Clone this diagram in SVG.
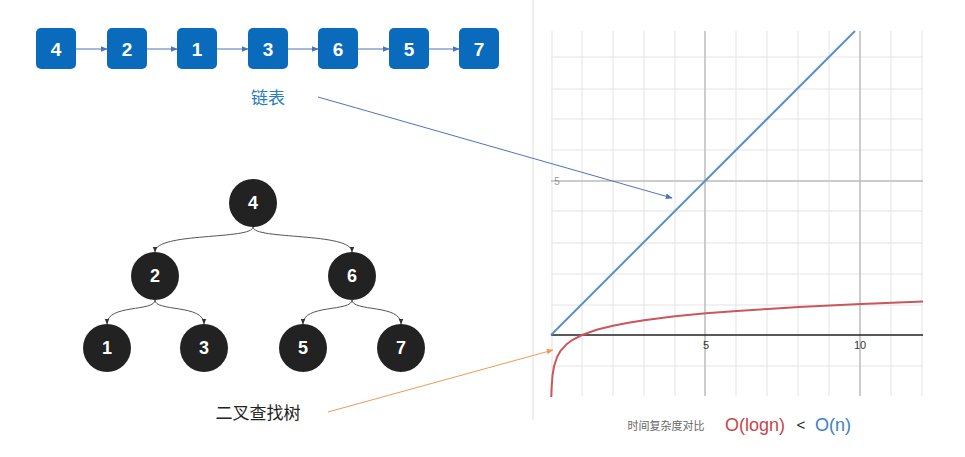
<svg xmlns="http://www.w3.org/2000/svg" width="965" height="457" viewBox="0 0 965 457">
<style>
.box{fill:#0a6bbd}
.bt{fill:#fff;font:bold 19px "Liberation Sans",Arial,sans-serif;text-anchor:middle}
.node{fill:#222}
.nt{fill:#fff;font:bold 18px "Liberation Sans",Arial,sans-serif;text-anchor:middle}
.ll{stroke:#4d74b8;stroke-width:1;fill:none}
.te{stroke:#555;stroke-width:1;fill:none}
.g{stroke:#e3e3e3;stroke-width:1}
.gm{stroke:#bbb;stroke-width:1.5}
</style>
<defs>
<marker id="ab" viewBox="0 0 10 10" refX="9" refY="5" markerWidth="7" markerHeight="7" orient="auto"><path d="M0,1 L10,5 L0,9z" fill="#4d74b8"/></marker>
<marker id="at" viewBox="0 0 10 10" refX="9" refY="5" markerWidth="6" markerHeight="6" orient="auto"><path d="M0,1 L10,5 L0,9z" fill="#333"/></marker>
<marker id="ao" viewBox="0 0 10 10" refX="9" refY="5" markerWidth="7" markerHeight="7" orient="auto"><path d="M0,1 L10,5 L0,9z" fill="#ee9a55"/></marker>
</defs>
<rect width="965" height="457" fill="#fff"/>
<g id="chart">
<line x1="533" y1="0" x2="533" y2="420" stroke="#ddd"/>
<g class="g">
<line x1="551" y1="57" x2="923" y2="57"/><line x1="551" y1="89" x2="923" y2="89"/><line x1="551" y1="119" x2="923" y2="119"/><line x1="551" y1="150" x2="923" y2="150"/><line x1="551" y1="211" x2="923" y2="211"/><line x1="551" y1="243" x2="923" y2="243"/><line x1="551" y1="274" x2="923" y2="274"/><line x1="551" y1="305" x2="923" y2="305"/><line x1="551" y1="366" x2="923" y2="366"/>
<line x1="582" y1="31" x2="582" y2="396"/><line x1="613" y1="31" x2="613" y2="396"/><line x1="644" y1="31" x2="644" y2="396"/><line x1="675" y1="31" x2="675" y2="396"/><line x1="736" y1="31" x2="736" y2="396"/><line x1="767" y1="31" x2="767" y2="396"/><line x1="798" y1="31" x2="798" y2="396"/><line x1="829" y1="31" x2="829" y2="396"/><line x1="891" y1="31" x2="891" y2="396"/><line x1="922" y1="31" x2="922" y2="396"/><line x1="552" y1="31" x2="552" y2="396"/>
</g>
<line class="gm" x1="551" y1="181" x2="923" y2="181"/>
<line class="gm" x1="705" y1="31" x2="705" y2="396"/>
<line class="gm" x1="860" y1="31" x2="860" y2="396"/>
<line x1="551" y1="335" x2="923" y2="335" stroke="#222" stroke-width="1.5"/>
<text x="557" y="185" font-family="Liberation Sans,sans-serif" font-size="10" fill="#999" text-anchor="middle">5</text>
<text x="706" y="349" font-family="Liberation Sans,sans-serif" font-size="11" fill="#333" text-anchor="middle">5</text>
<text x="860" y="349" font-family="Liberation Sans,sans-serif" font-size="11" fill="#333" text-anchor="middle">10</text>
<line x1="551" y1="335" x2="855" y2="31" stroke="#5b90c8" stroke-width="2"/>
<path d="M551.3,397 L551.6,387.7 L552.5,375.3 L554.1,366 L557.2,356.7 L560.3,351.2 L566.5,344.3 L572.7,339.8 L582,335 L597.5,329.5 L613,325.7 L628.5,322.7 L644,320.2 L659.5,318.2 L675,316.3 L706,313.3 L737,310.9 L768,308.9 L799,307 L830,305.4 L861,304 L892,302.7 L923,301.5" fill="none" stroke="#c9575b" stroke-width="2" stroke-linejoin="round"/>
</g>
<g id="connectors">
<line class="ll" x1="76" y1="49" x2="107" y2="49" marker-end="url(#ab)"/>
<line class="ll" x1="147" y1="49" x2="177" y2="49" marker-end="url(#ab)"/>
<line class="ll" x1="217" y1="49" x2="248" y2="49" marker-end="url(#ab)"/>
<line class="ll" x1="288" y1="49" x2="318" y2="49" marker-end="url(#ab)"/>
<line class="ll" x1="358" y1="49" x2="389" y2="49" marker-end="url(#ab)"/>
<line class="ll" x1="429" y1="49" x2="459" y2="49" marker-end="url(#ab)"/>
<line class="ll" x1="318" y1="97" x2="672" y2="198" marker-end="url(#ab)"/>
<line x1="328" y1="412" x2="553" y2="350" stroke="#ee9a55" stroke-width="1" marker-end="url(#ao)"/>
<path class="te" d="M253,227 C253,240 155,232 155,252" marker-end="url(#at)"/>
<path class="te" d="M253,227 C253,240 352,232 352,252" marker-end="url(#at)"/>
<path class="te" d="M155,300 C155,312 107,304 107,324" marker-end="url(#at)"/>
<path class="te" d="M155,300 C155,312 204,304 204,324" marker-end="url(#at)"/>
<path class="te" d="M352,300 C352,312 303,304 303,324" marker-end="url(#at)"/>
<path class="te" d="M352,300 C352,312 401,304 401,324" marker-end="url(#at)"/>
</g>
<g id="l4"><rect class="box" x="36" y="28" width="40" height="41" rx="5"/><text class="bt" x="56" y="56">4</text></g>
<g id="l2"><rect class="box" x="107" y="28" width="40" height="41" rx="5"/><text class="bt" x="127" y="56">2</text></g>
<g id="l1"><rect class="box" x="177" y="28" width="40" height="41" rx="5"/><text class="bt" x="197" y="56">1</text></g>
<g id="l3"><rect class="box" x="248" y="28" width="40" height="41" rx="5"/><text class="bt" x="268" y="56">3</text></g>
<g id="l6"><rect class="box" x="318" y="28" width="40" height="41" rx="5"/><text class="bt" x="338" y="56">6</text></g>
<g id="l5"><rect class="box" x="389" y="28" width="40" height="41" rx="5"/><text class="bt" x="409" y="56">5</text></g>
<g id="l7"><rect class="box" x="459" y="28" width="40" height="41" rx="5"/><text class="bt" x="479" y="56">7</text></g>
<g id="t4"><circle class="node" cx="253" cy="203" r="24"/><text class="nt" x="253" y="209">4</text></g>
<g id="t2"><circle class="node" cx="155" cy="276" r="24"/><text class="nt" x="155" y="282">2</text></g>
<g id="t6"><circle class="node" cx="352" cy="276" r="24"/><text class="nt" x="352" y="282">6</text></g>
<g id="t1"><circle class="node" cx="107" cy="348" r="24"/><text class="nt" x="107" y="354">1</text></g>
<g id="t3"><circle class="node" cx="204" cy="348" r="24"/><text class="nt" x="204" y="354">3</text></g>
<g id="t5"><circle class="node" cx="303" cy="348" r="24"/><text class="nt" x="303" y="354">5</text></g>
<g id="t7"><circle class="node" cx="401" cy="348" r="24"/><text class="nt" x="401" y="354">7</text></g>
<g id="labels" font-family="Liberation Sans,'Noto Sans CJK SC',sans-serif">
<text x="268" y="104" font-size="17" fill="#2a7cc0" text-anchor="middle">链表</text>
<text x="258" y="419" font-size="17" fill="#222" text-anchor="middle">二叉查找树</text>
<text x="666" y="430" font-size="11" fill="#666" text-anchor="middle">时间复杂度对比</text>
<text x="755" y="431" font-size="18" fill="#c9434a" text-anchor="middle">O(logn)</text>
<text x="801" y="430" font-size="15" fill="#222" text-anchor="middle">&lt;</text>
<text x="833" y="431" font-size="18" fill="#3b82c4" text-anchor="middle">O(n)</text>
</g>
</svg>
